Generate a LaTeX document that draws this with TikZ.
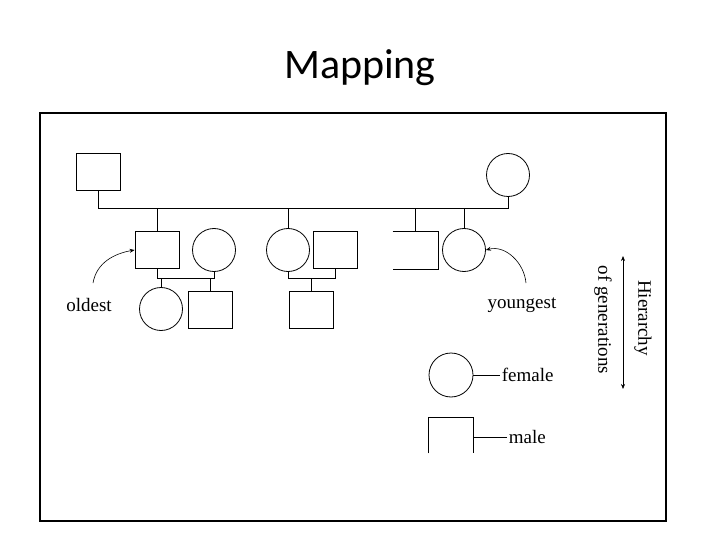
\documentclass[tikz,border=0pt]{standalone}
\usepackage{fontspec}
\setmainfont{Liberation Serif}
\newfontfamily\titlefont{Carlito}
\usetikzlibrary{arrows.meta,positioning}

\tikzset{
  male/.style={draw,rectangle,minimum width=44pt,minimum height=37pt,inner sep=0pt},
  female/.style={draw,circle,minimum size=43pt,inner sep=0pt},
  opensq/.style={rectangle,minimum width=45pt,minimum height=37pt,inner sep=0pt},
  lbl/.style={font=\fontsize{19}{22}\selectfont,inner sep=1.5pt},
  tip/.style={-{Stealth[length=5pt,width=4pt]}}
}

\begin{document}
\begin{tikzpicture}[x=1pt,y=-1pt,line width=0.8pt]
\useasboundingbox (0,0) rectangle (720,540);

\node[font=\titlefont\fontsize{42}{48}\selectfont] (title) at (360,68) {Mapping};
\draw[line width=2.5pt] (40,113) rectangle (666,521);

\node[male] (gp) at (98,172) {};
\node[female] (gm) at (508,175) {};

\node[male] (a) at (157,250) {};
\node[female] (b) at (214,250) {};
\node[female] (c) at (288,250) {};
\node[male] (d) at (335,250) {};
\node[opensq] (e) at (415.5,250) {};
\node[female] (f) at (464,250) {};

\node[female] (g) at (161,309) {};
\node[male] (h) at (210.5,310) {};
\node[male] (i) at (311,310) {};

\draw (gp.south) |- (gm.south |- 0,208) -- (gm.south);
\draw (a.north) -- (a.north |- 0,208);
\draw (c.north) -- (c.north |- 0,208);
\draw (e.north) -- (e.north |- 0,208);
\draw (f.north) -- (f.north |- 0,208);
\draw (e.north west) -- (e.north east) -- (e.south east) -- (e.south west);

\draw (a.south) |- (b.south |- 0,278) -- (b.south);
\draw (g.north) -- (g.north |- 0,278);
\draw (h.north) -- (h.north |- 0,278);
\draw (c.south) |- (d.south |- 0,278) -- (d.south);
\draw (i.north) -- (i.north |- 0,278);

\node[lbl] (old) at (89,305) {oldest};
\node[lbl] (young) at (522,305) {youngest};
\coordinate (oldtail) at (93,283);
\coordinate (youngtail) at (526,283);
\draw[tip,line width=0.6pt] (oldtail) to[out=80,in=190] (a.west);
\draw[tip,line width=0.6pt] (youngtail) to[out=95,in=15] (f.east);

\coordinate (up) at (623,256);
\coordinate (down) at (623,389);
\draw[{Stealth[length=5pt,width=4pt]}-{Stealth[length=5pt,width=4pt]},line width=0.6pt] (up) -- (down);
\node[lbl,rotate=-90] (gen) at (603,320) {of generations};
\node[lbl,rotate=-90] (hier) at (643,318) {Hierarchy};

\node[female,minimum size=44pt] (lf) at (451,375) {};
\node[lbl,anchor=west] (fem) at (500,375) {female};
\draw (lf.east) -- (fem.west);
\node[opensq,minimum width=44pt,minimum height=35pt] (lm) at (451,435.5) {};
\draw (lm.south west) -- (lm.north west) -- (lm.north east) -- (lm.south east);
\node[lbl,anchor=west] (mal) at (507,437) {male};
\draw (lm.east |- mal.west) -- (mal.west);
\end{tikzpicture}
\end{document}
